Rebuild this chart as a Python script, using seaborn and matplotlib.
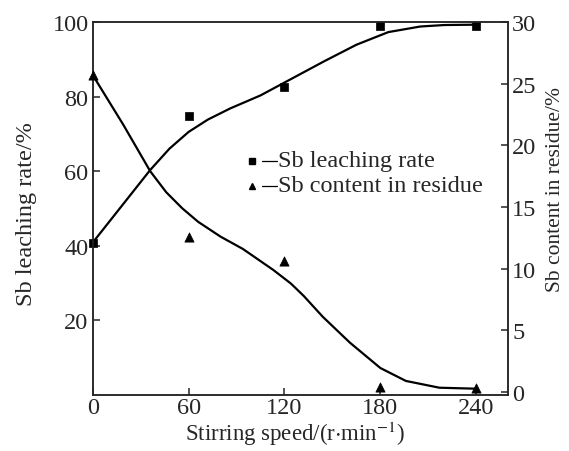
import numpy as np
import pandas as pd
import matplotlib
matplotlib.use("Agg")
import matplotlib.pyplot as plt
import seaborn as sns

# measured points
speed = [0, 60, 120, 180, 240]
leach_rate = [40.7, 74.7, 82.6, 99.0, 99.0]
residue_sb = [25.7, 12.6, 10.6, 0.4, 0.35]

# fitted curves
leach_curve_x = [0, 12, 24, 36, 48, 60, 72, 86, 105, 125, 145, 165, 185, 205, 220, 240]
leach_curve_y = [40.8, 47.3, 53.8, 60.3, 66.0, 70.5, 73.8, 76.8, 80.3, 84.9, 89.5, 93.9, 97.3, 98.8, 99.2, 99.3]
res_curve_x = [0, 19, 36, 46, 56, 66, 80, 94, 113, 124, 132, 144, 161, 180, 196, 217, 240]
res_curve_y = [25.7, 21.7, 17.9, 16.2, 14.9, 13.8, 12.6, 11.6, 9.9, 8.8, 7.8, 6.1, 4.0, 1.95, 0.9, 0.35, 0.27]

x_ticks = [0, 60, 120, 180, 240]
left_ticks = [20, 40, 60, 80, 100]
right_ticks = [0, 5, 10, 15, 20, 25, 30]

sns.set_style("ticks")
plt.rcParams['font.family'] = ['Liberation Serif', 'DejaVu Serif']
plt.rcParams['mathtext.fontset'] = 'stix'
plt.rcParams['axes.linewidth'] = 1.1

fig = plt.figure(figsize=(5.69, 4.52), dpi=100)
ax = fig.add_axes([0.163, 0.125, 0.730, 0.824])
ax2 = ax.twinx()

pts = pd.DataFrame({"speed": speed, "leach": leach_rate, "res": residue_sb})
lc = pd.DataFrame({"speed": leach_curve_x, "val": leach_curve_y})
rc = pd.DataFrame({"speed": res_curve_x, "val": res_curve_y})

sns.lineplot(data=lc, x="speed", y="val", ax=ax, color="black", lw=1.6)
sns.scatterplot(data=pts, x="speed", y="leach", ax=ax, marker="s", color="black",
                s=40, edgecolor="black", zorder=5, clip_on=False)
sns.lineplot(data=rc, x="speed", y="val", ax=ax2, color="black", lw=1.6)
sns.scatterplot(data=pts, x="speed", y="res", ax=ax2, marker="^", color="black",
                s=44, edgecolor="black", zorder=5, clip_on=False)

ax.set_xlim(0, 260)
ax.set_ylim(0, 100)
ax2.set_ylim(-0.2, 30)
ax.set_xticks(x_ticks)
ax.set_yticks(left_ticks)
ax2.set_yticks(right_ticks)

fs = 17.5
ax.tick_params(axis='both', direction='in', length=5, width=1.1, labelsize=fs, pad=3)
ax.tick_params(axis='x', pad=2)
ax2.tick_params(axis='y', direction='in', length=5, width=1.1, labelsize=fs, pad=3)

ax.set_xlabel(r'Stirring speed/(r$\cdot$min$^{-1}$)', fontsize=16.5, labelpad=0)
ax.xaxis.set_label_coords(0.488, -0.066)
ax.set_ylabel('Sb leaching rate/%', fontsize=fs)
ax.yaxis.set_label_coords(-0.135, 0.487)
ax2.set_ylabel('Sb content in residue/%', fontsize=15.5)
ax2.yaxis.set_label_coords(1.092, 0.552)

# legend drawn as markers, dashes and text
leg_y = [0.627, 0.560]
leg_marker = ['s', '^']
leg_text = ['Sb leaching rate', 'Sb content in residue']
for yy, mk, tx in zip(leg_y, leg_marker, leg_text):
    ax.plot([0.383], [yy], marker=mk, color='black', ms=5, transform=ax.transAxes, clip_on=False)
    ax.plot([0.407, 0.443], [yy, yy], color='black', lw=0.9, transform=ax.transAxes)
    ax.text(0.447, yy, tx, transform=ax.transAxes, fontsize=fs, va='center', ha='left')

fig.savefig("out.png", dpi=100)
